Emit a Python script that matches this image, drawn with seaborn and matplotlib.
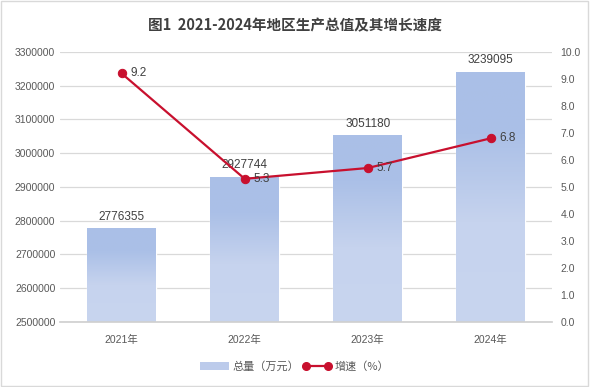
import numpy as np
import pandas as pd
import matplotlib
matplotlib.use('Agg')
import matplotlib.pyplot as plt
import seaborn as sns
from matplotlib.colors import LinearSegmentedColormap
from matplotlib.lines import Line2D
from matplotlib.patches import Patch, Rectangle

# --- data ---
years = ['2021年', '2022年', '2023年', '2024年']
total = [2776355, 2927744, 3051180, 3239095]   # 总量（万元）
growth = [9.2, 5.3, 5.7, 6.8]                   # 增速（%）
title = '图1  2021-2024年地区生产总值及其增长速度'

df = pd.DataFrame({'year': years, 'total': total, 'growth': growth})

sns.set_theme(style='white')
plt.rcParams['font.family'] = ['Liberation Sans', 'Noto Sans CJK SC', 'DejaVu Sans']

fig = plt.figure(figsize=(5.9, 3.87), dpi=100)
ax = fig.add_axes([0.102, 0.168, 0.834, 0.698])

ymin, ymax = 2500000, 3300000

# bars
sns.barplot(data=df, x='year', y='total', color='#b4c6ea', width=0.56, ax=ax, zorder=2)
ax.set_ylim(ymin, ymax)
ax.set_yticks(np.arange(ymin, ymax + 1, 100000))
ax.set_yticklabels([f'{v:d}' for v in np.arange(ymin, ymax + 1, 100000)])
ax.yaxis.grid(True, color='#d9d9d9', lw=0.9, zorder=0)
ax.set_axisbelow(True)
ax.set_xlabel('')
ax.set_ylabel('')
for s in ['top', 'left', 'right']:
    ax.spines[s].set_visible(False)
ax.spines['bottom'].set_color('#d0d0d0')
ax.tick_params(axis='both', length=0, labelsize=7.5, colors='#595959')
ax.tick_params(axis='x', pad=9)

# gradient fill in each bar (darker top, lighter bottom), only the visible part
cmap = LinearSegmentedColormap.from_list(
    'g', [(0, '#c8d5ef'), (0.4, '#c6d3ee'), (0.75, '#abc0e7'), (1, '#aabfe7')])
grad = np.linspace(0, 1, 256).reshape(-1, 1)
for p in list(ax.patches):
    x0, w = p.get_x(), p.get_width()
    top = p.get_y() + p.get_height()
    ax.imshow(grad, cmap=cmap, origin='lower', aspect='auto',
              extent=[x0, x0 + w, ymin, top], zorder=2.5)
ax.set_xlim(-0.5, 3.5)
ax.set_ylim(ymin, ymax)

for i, v in enumerate(total):
    ax.text(i, v + 18000, f'{v}', ha='center', va='bottom', fontsize=8.5, color='#404040', zorder=4)

# growth line on right axis
ax2 = ax.twinx()
sns.lineplot(x=np.arange(len(years)), y=growth, ax=ax2, color='#c8102e', lw=1.6,
             marker='o', markersize=6, markeredgecolor='#c8102e', zorder=5)
ax2.set_ylim(0, 10)
ax2.set_yticks(np.arange(0, 10.1, 1))
ax2.set_yticklabels([f'{v:.1f}' for v in np.arange(0, 10.1, 1)])
ax2.tick_params(axis='y', length=0, labelsize=7.5, colors='#595959', pad=6)
for s in ax2.spines.values():
    s.set_visible(False)
for i, v in enumerate(growth):
    ax2.text(i + 0.07, v, f'{v}', ha='left', va='center', fontsize=8.5, color='#404040', zorder=6)

fig.suptitle(title, y=0.955, fontsize=10.5, fontweight='bold', color='#404040',
             family=['Noto Sans CJK SC', 'DejaVu Sans'])

handles = [Patch(facecolor='#bccbeb', edgecolor='none'),
           Line2D([0], [0], color='#c8102e', lw=1.6, marker='o', markersize=5.5)]
fig.legend(handles, ['总量（万元）', '增速（%）'], loc='center', bbox_to_anchor=(0.5, 0.053),
           ncol=2, frameon=False, numpoints=2, handlelength=2.6,
           handletextpad=0.3, columnspacing=0.3, labelcolor='#595959',
           prop={'family': ['Noto Sans CJK SC', 'DejaVu Sans'], 'size': 8})

fig.patches.append(Rectangle((0.002, 0.003), 0.995, 0.994, transform=fig.transFigure,
                             fill=False, edgecolor='#d9d9d9', lw=1))

fig.savefig('out.png', dpi=100)
